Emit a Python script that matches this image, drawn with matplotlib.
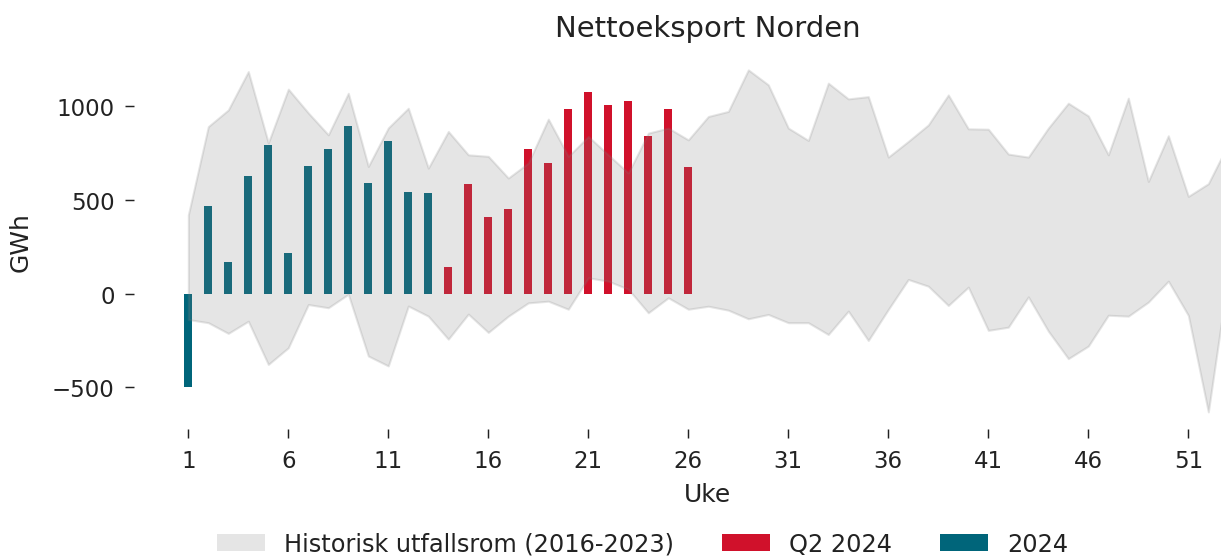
import numpy as np
import matplotlib
matplotlib.use("Agg")
import matplotlib.pyplot as plt
from matplotlib.patches import Patch

# uker
weeks = np.arange(1, 54)

# historisk min/maks (2016-2023), GWh
hist_max = [420, 892, 981, 1186, 805, 1092, 965, 848, 1070, 679,
            885, 990, 670, 866, 741, 733, 617, 697, 932, 733,
            839, 741, 644, 857, 884, 821, 946, 973, 1195, 1115,
            884, 818, 1124, 1040, 1052, 729, 813, 901, 1061, 880,
            878, 745, 729, 884, 1017, 949, 741, 1044, 599, 843,
            519, 587, 800]
hist_min = [-139, -156, -213, -148, -379, -290, -59, -76, -4, -334,
            -387, -67, -121, -244, -110, -208, -121, -50, -41, -84,
            84, 66, 23, -103, -23, -84, -68, -89, -135, -112,
            -156, -156, -219, -94, -251, -85, 75, 39, -64, 34,
            -197, -180, -18, -201, -348, -281, -116, -121, -46, 66,
            -117, -633, 100]

# 2024 (uke 1-13) og Q2 2024 (uke 14-26)
weeks_2024 = np.arange(1, 14)
val_2024 = [-500, 470, 171, 626, 791, 214, 679, 770, 893, 588, 813, 545, 535]
weeks_q2 = np.arange(14, 27)
val_q2 = [144, 586, 411, 451, 770, 699, 987, 1077, 1006, 1027, 843, 987, 677]

red = "#d0112b"
teal = "#00657a"

fig = plt.figure(figsize=(12.21 / 1.5, 5.6 / 1.5), dpi=150)
ax = fig.add_axes([0.110, 0.232, 0.9386, 0.672])

ax.bar(weeks_2024, val_2024, width=0.4, color=teal)
ax.bar(weeks_q2, val_q2, width=0.4, color=red)
ax.fill_between(weeks, hist_min, hist_max, color="gray", alpha=0.2, linewidth=1)

for s in ax.spines.values():
    s.set_visible(False)

ax.set_xlim(-1.7, 55.6)
ax.set_xticks(np.arange(1, 53, 5))
ax.set_yticks([-500, 0, 500, 1000])
ax.tick_params(labelsize=11, length=4.5, width=0.7, pad=5, color="#222222",
               labelcolor="#222222")
ax.set_title("Nettoeksport Norden", fontsize=14, pad=8, color="#222222")
ax.set_xlabel("Uke", fontsize=12, labelpad=5, color="#222222")
ax.set_ylabel("GWh", fontsize=12, color="#222222")
ax.yaxis.set_label_coords(-0.089, 0.5)

handles = [Patch(facecolor="gray", alpha=0.2, label="Historisk utfallsrom (2016-2023)"),
           Patch(facecolor=red, label="Q2 2024"),
           Patch(facecolor=teal, label="2024")]
leg = fig.legend(handles=handles, loc="center", bbox_to_anchor=(0.5266, 0.027),
                 ncol=3, frameon=False, fontsize=11.5)
for t in leg.get_texts():
    t.set_color("#222222")

fig.savefig("out.png", dpi=150)
